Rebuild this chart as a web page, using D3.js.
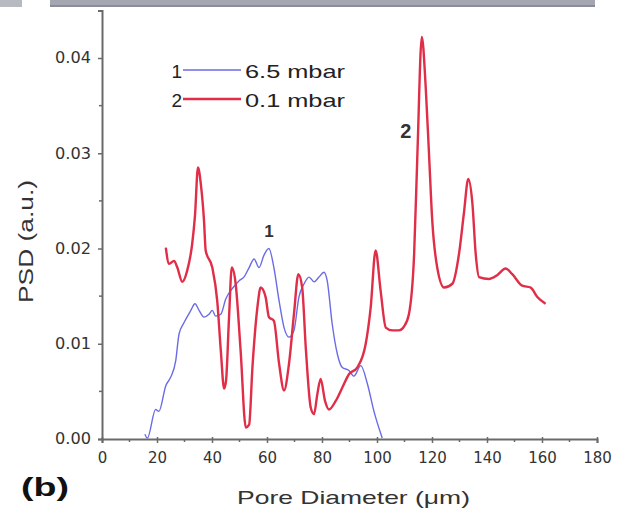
<!DOCTYPE html>
<html>
<head>
<meta charset="utf-8">
<script src="https://cdn.jsdelivr.net/npm/d3@7"></script>
<style>
html,body{margin:0;padding:0;background:#fff;}
svg{display:block;}
</style>
</head>
<body>
<svg id="chart" width="626" height="514"></svg>
<script>
// ---- data ----
const xTicks = [0,20,40,60,80,100,120,140,160,180];
const yTicks = [0.00,0.01,0.02,0.03,0.04];
const legendLabels = ["6.5 mbar","0.1 mbar"];
const seriesIds = ["1","2"];

// series 1: 6.5 mbar (blue)
const x1 = [15.6,16.5,19.5,20.7,23.2,25.0,26.8,28.0,29.8,32.3,33.8,35.3,37.1,38.9,40.1,41.3,43.2,45.0,47.4,49.8,51.6,53.5,55.3,57.1,58.9,60.7,62.5,64.4,66.2,68.0,69.8,71.6,73.5,75.3,77.1,78.9,80.7,81.9,83.7,85.6,87.4,89.8,91.6,94.1,96.5,98.9,101.9];
const y1 = [0.0005,0.0001,0.0031,0.0029,0.0056,0.0065,0.0082,0.0110,0.0122,0.0135,0.0142,0.0135,0.0128,0.0131,0.0135,0.0129,0.0131,0.0147,0.0158,0.0166,0.0170,0.0180,0.0189,0.0180,0.0193,0.0200,0.0180,0.0145,0.0117,0.0107,0.0114,0.0149,0.0163,0.0170,0.0165,0.0170,0.0175,0.0166,0.0121,0.0089,0.0075,0.0072,0.0066,0.0077,0.0058,0.0029,0.0001];

// series 2: 0.1 mbar (red)
const x2 = [23.2,24.4,26.2,27.4,29.2,31.0,32.8,33.8,34.9,36.0,37.1,37.7,40.1,41.9,43.2,44.4,45.1,46.2,47.2,48.6,50.4,52.3,53.5,54.7,56.5,57.7,59.5,60.7,62.5,64.4,66.2,68.0,69.8,71.4,72.8,74.1,75.9,77.1,78.3,79.5,81.1,82.5,85.0,87.4,89.8,92.8,95.9,97.7,99.5,101.3,103.2,105.6,108.0,109.8,111.6,113.5,114.7,116.3,117.7,118.9,120.1,121.9,124.4,127.4,129.8,131.6,133.2,134.7,135.9,137.1,140.7,143.7,146.8,149.2,152.8,155.9,158.3,161.3];
const y2 = [0.0201,0.0184,0.0187,0.0180,0.0165,0.0177,0.0205,0.0234,0.0285,0.0266,0.0229,0.0198,0.0180,0.0145,0.0093,0.0053,0.0061,0.0128,0.0180,0.0163,0.0093,0.0012,0.0015,0.0075,0.0138,0.0159,0.0149,0.0128,0.0124,0.0079,0.0051,0.0079,0.0131,0.0173,0.0159,0.0096,0.0033,0.0026,0.0047,0.0063,0.0040,0.0031,0.0040,0.0054,0.0068,0.0075,0.0100,0.0138,0.0198,0.0156,0.0117,0.0114,0.0114,0.0118,0.0131,0.0194,0.0300,0.0422,0.0370,0.0300,0.0229,0.0180,0.0159,0.0163,0.0194,0.0237,0.0273,0.0247,0.0194,0.0170,0.0168,0.0172,0.0179,0.0173,0.0161,0.0159,0.0149,0.0142];

// ---- drawing ----
const svg = d3.select("#chart");
const axisColor = "#6a6a6a";
const blue = "#6b6be6";
const red = "#e02d48";

// cropped strip of neighbouring panel at top
svg.append("rect").attr("x",50).attr("y",0).attr("width",545).attr("height",7).attr("fill","#a4a6b2");
svg.append("rect").attr("x",50).attr("y",5).attr("width",545).attr("height",2).attr("fill","#8a8c98");
svg.append("rect").attr("x",0).attr("y",0).attr("width",22).attr("height",7).attr("fill","#b8bac2");

const x = d3.scaleLinear().domain([0,180]).range([102,597]);
const y = d3.scaleLinear().domain([0,0.045]).range([439,10.4]);

// Y axis
const yAxis = d3.axisLeft(y).tickValues(yTicks).tickFormat(d3.format(".2f")).tickSize(4).tickPadding(7);
const gy = svg.append("g").attr("transform",`translate(${x(0)},0)`).call(yAxis);
gy.select(".domain").attr("stroke",axisColor).attr("stroke-width",2);
gy.selectAll(".tick line").attr("stroke",axisColor).attr("stroke-width",1.5);
gy.selectAll(".tick text").attr("font-family","DejaVu Sans, sans-serif").attr("font-size",15).attr("fill","#333")
  .attr("textLength",36).attr("lengthAdjust","spacingAndGlyphs");
// minor y ticks
svg.append("g").selectAll("line").data(d3.range(0.005,0.045,0.01)).join("line")
  .attr("x1",x(0)-3).attr("x2",x(0)).attr("y1",d=>y(d)).attr("y2",d=>y(d))
  .attr("stroke",axisColor).attr("stroke-width",1.5);

// X axis
const xAxis = d3.axisBottom(x).tickValues(xTicks).tickFormat(d3.format("d")).tickSize(4).tickPadding(9);
const gx = svg.append("g").attr("transform",`translate(0,${y(0)})`).call(xAxis);
gx.select(".domain").attr("stroke",axisColor).attr("stroke-width",2);
gx.selectAll(".tick line").attr("stroke",axisColor).attr("stroke-width",1.5).attr("y1",-2);
gx.selectAll(".tick text").attr("font-family","DejaVu Sans, sans-serif").attr("font-size",15).attr("fill","#333");
svg.append("g").selectAll("line").data(d3.range(10,180,20)).join("line")
  .attr("x1",d=>x(d)).attr("x2",d=>x(d)).attr("y1",y(0)).attr("y2",y(0)+3)
  .attr("stroke",axisColor).attr("stroke-width",1.5);

// lines
const line = d3.line().x(d=>x(d[0])).y(d=>y(d[1])).curve(d3.curveMonotoneX);
const s1 = x1.map((v,i)=>[v,y1[i]]);
const s2 = x2.map((v,i)=>[v,y2[i]]);
svg.append("path").datum(s1).attr("d",line).attr("fill","none").attr("stroke",blue).attr("stroke-width",1.4);
svg.append("path").datum(s2).attr("d",line).attr("fill","none").attr("stroke",red).attr("stroke-width",2.4);

// legend
const legColors = [blue, red];
const legY = [70, 99];
const legTextY = [78, 107];
seriesIds.forEach((id,i)=>{
  svg.append("text").attr("x",182).attr("y",legTextY[i]).attr("text-anchor","end")
    .attr("font-family","Liberation Sans, Arial, sans-serif").attr("font-size",19).attr("fill","#222").text(id);
  svg.append("line").attr("x1",183).attr("x2",241).attr("y1",legY[i]).attr("y2",legY[i])
    .attr("stroke",legColors[i]).attr("stroke-width",i===0?1.4:2.4);
  svg.append("text").attr("x",245).attr("y",legTextY[i])
    .attr("font-family","Liberation Sans, Arial, sans-serif").attr("font-size",19).attr("fill","#222")
    .attr("textLength",100).attr("lengthAdjust","spacingAndGlyphs").text(legendLabels[i]);
});

// curve labels
svg.append("text").attr("x",x(60.7)).attr("y",y(0.0200)-12).attr("text-anchor","middle")
  .attr("font-family","Liberation Sans, Arial, sans-serif").attr("font-size",17).attr("font-weight","bold").attr("fill","#333").text("1");
svg.append("text").attr("x",x(116.3)-16).attr("y",138).attr("text-anchor","middle")
  .attr("font-family","Liberation Sans, Arial, sans-serif").attr("font-size",20).attr("font-weight","bold").attr("fill","#333").text("2");

// axis titles
svg.append("text").attr("x",237).attr("y",504)
  .attr("font-family","Liberation Sans, Arial, sans-serif").attr("font-size",19).attr("fill","#333")
  .attr("textLength",233).attr("lengthAdjust","spacingAndGlyphs").text("Pore  Diameter  (\u03bcm)");
svg.append("text").attr("transform","translate(33,303) rotate(-90)")
  .attr("font-family","Liberation Sans, Arial, sans-serif").attr("font-size",20).attr("fill","#333")
  .attr("textLength",123).attr("lengthAdjust","spacingAndGlyphs").text("PSD  (a.u.)");

// panel label
svg.append("text").attr("x",21).attr("y",496)
  .attr("font-family","Liberation Sans, Arial, sans-serif").attr("font-size",26).attr("font-weight","bold").attr("fill","#111")
  .attr("textLength",48).attr("lengthAdjust","spacingAndGlyphs").text("(b)");
</script>
</body>
</html>
